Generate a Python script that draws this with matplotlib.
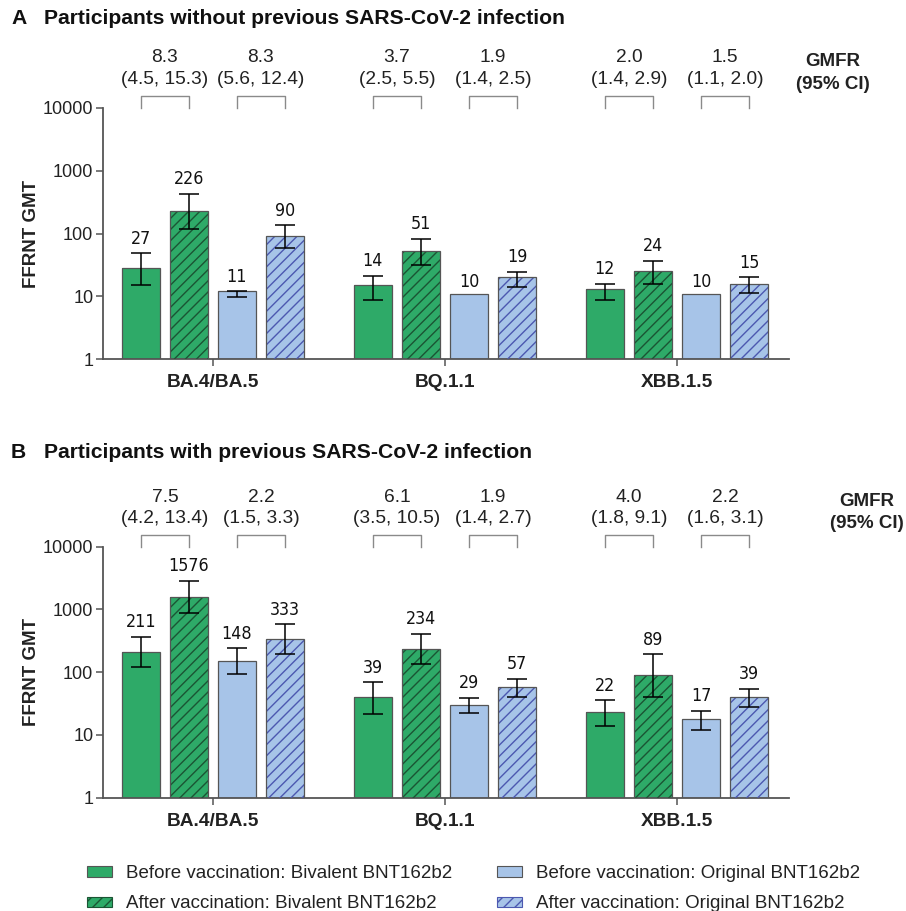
import matplotlib
matplotlib.use("Agg")
import matplotlib.pyplot as plt
from matplotlib.patches import Patch
from matplotlib.transforms import blended_transform_factory
from matplotlib import font_manager as fm
import numpy as np

plt.rcParams['font.family'] = ['Liberation Sans', 'DejaVu Sans']
plt.rcParams['hatch.linewidth'] = 1.0

_fonts = fm.fontManager.ttflist
if any(f.name == 'Liberation Sans Narrow' for f in _fonts):
    NARROW = {'family': ['Liberation Sans Narrow'], 'stretch': 'normal', 'size': 13.5}
elif any(f.name == 'DejaVu Sans' and 'Condensed' in f.fname for f in _fonts):
    NARROW = {'family': ['DejaVu Sans'], 'stretch': 'condensed', 'size': 12.8}
else:
    NARROW = {'family': ['Liberation Sans', 'DejaVu Sans'], 'stretch': 'normal', 'size': 12}

# ---------------- data ----------------
variants = ["BA.4/BA.5", "BQ.1.1", "XBB.1.5"]
series = ["Before vaccination: Bivalent BNT162b2",
          "After vaccination: Bivalent BNT162b2",
          "Before vaccination: Original BNT162b2",
          "After vaccination: Original BNT162b2"]

# Panel A: without previous infection  (rows = variants, cols = series)
gmt_A = [[27, 226, 11, 90],
         [14, 51, 10, 19],
         [12, 24, 10, 15]]
lo_A = [[15.4, 119, 9.8, 59.5],
        [8.7, 31.6, None, 14.3],
        [8.9, 15.9, None, 11.2]]
hi_A = [[48.4, 425, 12.05, 136],
        [21.1, 82.6, None, 24.7],
        [15.9, 36.5, None, 20.1]]
gmfr_A = [["8.3", "(4.5, 15.3)", "8.3", "(5.6, 12.4)"],
          ["3.7", "(2.5, 5.5)", "1.9", "(1.4, 2.5)"],
          ["2.0", "(1.4, 2.9)", "1.5", "(1.1, 2.0)"]]

# Panel B: with previous infection
gmt_B = [[211, 1576, 148, 333],
         [39, 234, 29, 57],
         [22, 89, 17, 39]]
lo_B = [[122, 888, 92.5, 195],
        [21.6, 137, 22.1, 40.7],
        [13.9, 40.7, 11.9, 27.6]]
hi_B = [[364, 2872, 240, 580],
        [69, 406, 39.2, 78.8],
        [35.7, 193, 24.3, 54.6]]
gmfr_B = [["7.5", "(4.2, 13.4)", "2.2", "(1.5, 3.3)"],
          ["6.1", "(3.5, 10.5)", "1.9", "(1.4, 2.7)"],
          ["4.0", "(1.8, 9.1)", "2.2", "(1.6, 3.1)"]]

titles = ["Participants without previous SARS-CoV-2 infection",
          "Participants with previous SARS-CoV-2 infection"]
letters = ["A", "B"]
yticks = [1, 10, 100, 1000, 10000]

# ---------------- styles ----------------
face = ["#2eaa68", "#2eaa68", "#a7c4e8", "#a7c4e8"]
hatchcol = [None, "#1b5534", None, "#4c58b0"]
edge = "#555555"
offsets = np.array([-1.5, -0.5, 0.5, 1.5]) * 0.207
width = 0.164

fig = plt.figure(figsize=(9.06, 9.11), dpi=100)
W, H = 906, 911
ax_rects = [
    [103 / W, 1 - 359.3 / H, 686 / W, 251.6 / H],
    [103 / W, 1 - 797.7 / H, 686 / W, 251.0 / H],
]
title_y = [18, 453]
gmfr_x = [1.064, 1.114]

panels = [(gmt_A, lo_A, hi_A, gmfr_A), (gmt_B, lo_B, hi_B, gmfr_B)]

for p, (gmt, lo, hi, gmfr) in enumerate(panels):
    ax = fig.add_axes(ax_rects[p])
    ax.set_yscale('log')
    ax.set_ylim(1, 10000)
    ax.set_xlim(-0.474, 2.483)
    x = np.arange(len(variants))
    for s in range(4):
        xs = x + offsets[s]
        vals = [gmt[v][s] for v in range(len(variants))]
        ax.bar(xs, vals, width=width, bottom=1, color=face[s], edgecolor='none', zorder=2)
        if hatchcol[s]:
            ax.bar(xs, vals, width=width, bottom=1, facecolor='none', edgecolor=hatchcol[s],
                   hatch='///', linewidth=0, zorder=3)
        ax.bar(xs, vals, width=width, bottom=1, facecolor='none', edgecolor=edge,
               linewidth=0.9, zorder=4)
        for v in range(len(variants)):
            top = vals[v]
            if lo[v][s] is not None:
                ax.errorbar(xs[v], vals[v],
                            yerr=[[vals[v] - lo[v][s]], [hi[v][s] - vals[v]]],
                            fmt='none', ecolor='black', elinewidth=1.1, capsize=7,
                            capthick=1.1, zorder=5)
                top = hi[v][s]
            ax.annotate(str(vals[v]), (xs[v], top), xytext=(0, 4), textcoords='offset points',
                        ha='center', va='bottom', fontsize=NARROW['size'],
                        family=NARROW['family'], stretch=NARROW['stretch'], color='#111111')
    # GMFR brackets
    tr = blended_transform_factory(ax.transData, ax.transAxes)
    for v in range(len(variants)):
        for k in range(2):
            x1 = x[v] + offsets[2 * k]
            x2 = x[v] + offsets[2 * k + 1]
            ax.plot([x1, x1, x2, x2], [1.0, 1.047, 1.047, 1.0], transform=tr,
                    color='#8a8a8a', lw=1.0, clip_on=False)
            xc = (x1 + x2) / 2
            ax.text(xc, 1.198, gmfr[v][2 * k], transform=tr, ha='center', va='center',
                    fontsize=13.8, color='#222222')
            ax.text(xc, 1.114, gmfr[v][2 * k + 1], transform=tr, ha='center', va='center',
                    fontsize=13.8, color='#222222')
    ax.text(gmfr_x[p], 1.182, "GMFR", transform=ax.transAxes, ha='center', va='center',
            fontsize=13.5, fontweight='bold', color='#222222')
    ax.text(gmfr_x[p], 1.094, "(95% CI)", transform=ax.transAxes, ha='center', va='center',
            fontsize=13.5, fontweight='bold', color='#222222')

    ax.set_yticks(yticks)
    ax.set_yticklabels([str(t) for t in yticks])
    ax.minorticks_off()
    ax.set_xticks(x)
    ax.set_xticklabels([])
    for v in range(len(variants)):
        ax.annotate(variants[v], (x[v], 0), xycoords=tr, xytext=(0, -17),
                    textcoords='offset points', ha='center', va='center',
                    fontsize=13.8, fontweight='bold', color='#222222')
    ax.tick_params(axis='y', length=5, width=1.1, color='#555555', labelsize=13,
                   labelcolor='#222222', pad=2)
    ax.tick_params(axis='x', length=5, width=1.1, color='#555555')
    for side in ['top', 'right']:
        ax.spines[side].set_visible(False)
    for side in ['left', 'bottom']:
        ax.spines[side].set_color('#555555')
        ax.spines[side].set_linewidth(1.3)
    ax.set_ylabel("FFRNT GMT", fontsize=13.5, fontweight='bold', color='#222222', labelpad=2)

    fig.text(11 / W, 1 - title_y[p] / H, letters[p], fontsize=15.2, fontweight='bold',
             va='center', ha='left', color='#111111')
    fig.text(44 / W, 1 - title_y[p] / H, titles[p], fontsize=15.2, fontweight='bold',
             va='center', ha='left', color='#111111')

# legend
handles = []
for s in range(4):
    if hatchcol[s]:
        handles.append(Patch(facecolor=face[s], edgecolor=hatchcol[s], hatch='///', linewidth=0.8))
    else:
        handles.append(Patch(facecolor=face[s], edgecolor=edge, linewidth=0.8))
leg = fig.legend(handles, series, ncol=2,
                 loc='upper left', bbox_to_anchor=(87 / W, 1 - 865 / H),
                 frameon=False, borderpad=0, borderaxespad=0, handlelength=1.35,
                 handleheight=0.5, handletextpad=0.75, labelspacing=0.72,
                 columnspacing=2.35,
                 prop={'family': ['Liberation Sans', 'DejaVu Sans'], 'size': 13.5})
for t in leg.get_texts():
    t.set_color('#222222')

fig.savefig("out.png", dpi=100)
